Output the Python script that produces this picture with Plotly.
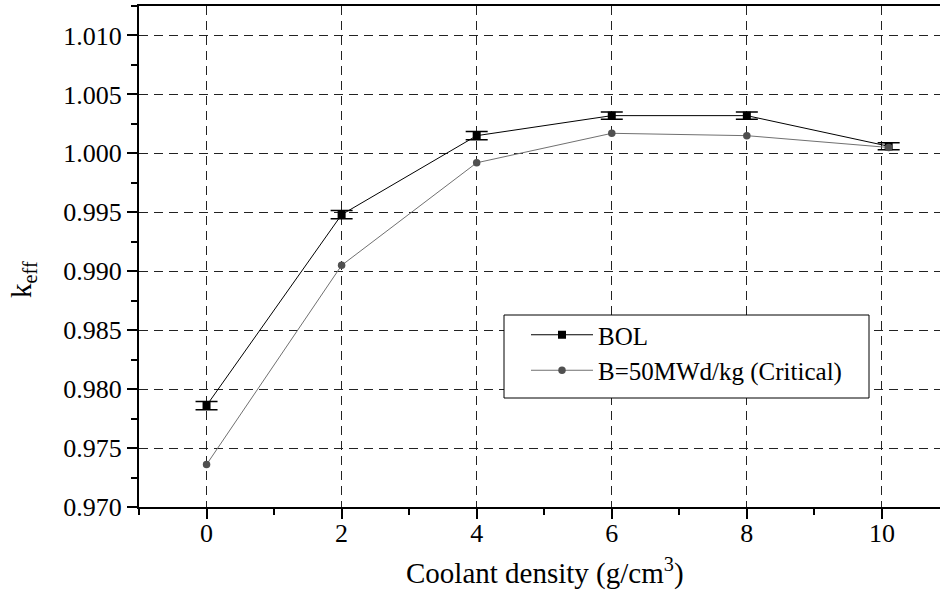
import plotly.graph_objects as go

# Data
density = [0, 2, 4, 6, 8, 10.1]
keff_bol = [0.9786, 0.9948, 1.0015, 1.0032, 1.0032, 1.0006]
keff_bol_err = [0.00035, 0.00035, 0.00035, 0.0003, 0.0003, 0.0003]
keff_b50 = [0.9736, 0.9905, 0.9992, 1.0017, 1.0015, 1.0005]
series_names = ["BOL", "B=50MWd/kg (Critical)"]
x_ticks = [0, 2, 4, 6, 8, 10]
y_ticks = [0.970, 0.975, 0.980, 0.985, 0.990, 0.995, 1.000, 1.005, 1.010]
x_title = "Coolant density (g/cm<sup>3</sup>)"
y_title = "k<sub>eff</sub>"

FONT = "Liberation Serif, Times New Roman, serif"
W, H = 940, 603
L, R, T, B = 139, 0, 6, 96

fig = go.Figure()
fig.add_trace(go.Scatter(
    x=density, y=keff_bol, name=series_names[0], mode="lines+markers",
    line=dict(color="black", width=1),
    marker=dict(symbol="square", size=8, color="black"),
    error_y=dict(type="data", array=keff_bol_err, visible=True,
                 color="black", thickness=1.5, width=11),
    legendgroup="a",
))
fig.add_trace(go.Scatter(
    x=density, y=keff_b50, name=series_names[1], mode="lines+markers",
    line=dict(color="#707070", width=1),
    marker=dict(symbol="circle", size=7.5, color="#505050"),
    legendgroup="b",
))

pw = W - L - R
ph = H - T - B
def px_x(p):
    return (p - L) / pw
def px_y(p):
    return (H - B - p) / ph

# legend frame
fig.add_shape(type="rect", xref="paper", yref="paper",
              x0=px_x(504), x1=px_x(869), y0=px_y(398), y1=px_y(315),
              line=dict(color="black", width=1), fillcolor="white", layer="above")

axis_common = dict(
    showline=True, linecolor="black", linewidth=2,
    ticks="outside", ticklen=10, tickwidth=2, tickcolor="black",
    showgrid=True, gridcolor="#222222", gridwidth=1, griddash="9px,6px",
    zeroline=False,
    tickfont=dict(family=FONT, size=26, color="black"),
    minor=dict(ticks="outside", ticklen=6, tickwidth=2, tickcolor="black", showgrid=False),
)

fig.update_xaxes(
    range=[-1, 10.86],
    tickvals=x_ticks, ticktext=[str(v) for v in x_ticks],
    mirror=True, ticklabelstandoff=-8,
    minor_dtick=1, minor_tick0=0,
    **axis_common,
)
fig.update_yaxes(
    range=[0.970, 1.0125],
    tickvals=y_ticks, ticktext=[f"{v:.3f}" for v in y_ticks],
    minor_dtick=0.0025, minor_tick0=0.970,
    **axis_common,
)

# axis titles
fig.add_annotation(text=x_title, xref="paper", yref="paper",
                   x=px_x(545), y=px_y(571), xanchor="center", yanchor="middle",
                   showarrow=False, font=dict(family=FONT, size=29, color="black"))
fig.add_annotation(text=y_title, xref="paper", yref="paper", textangle=-90,
                   x=px_x(23), y=px_y(280), xanchor="center", yanchor="middle",
                   showarrow=False, font=dict(family=FONT, size=29, color="black"))

fig.update_layout(
    width=W, height=H,
    margin=dict(l=L, r=R, t=T, b=B, autoexpand=False),
    paper_bgcolor="white", plot_bgcolor="white",
    font=dict(family=FONT, color="black"),
    showlegend=True,
    legend=dict(x=px_x(526), y=px_y(312), xanchor="left", yanchor="top",
                bgcolor="rgba(0,0,0,0)", borderwidth=0,
                font=dict(family=FONT, size=25, color="black"),
                itemwidth=62, tracegroupgap=0),
)

fig.write_html("out.html")
